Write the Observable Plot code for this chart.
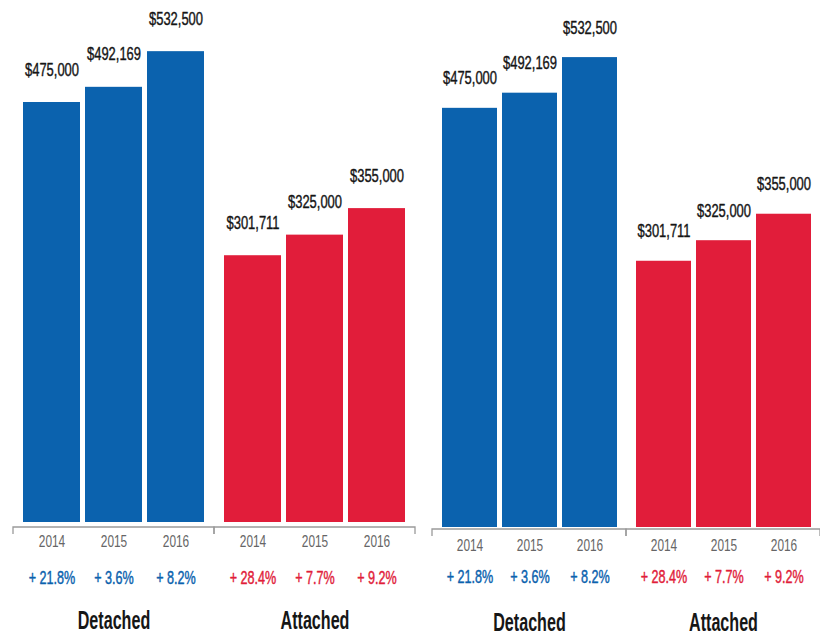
<!DOCTYPE html>
<html>
<head>
<meta charset="utf-8">
<script src="https://cdn.jsdelivr.net/npm/d3@7"></script>
<script src="https://cdn.jsdelivr.net/npm/@observablehq/plot@0.6"></script>
<style>
  html, body { margin: 0; padding: 0; background: #fff; }
  #wrap { display: flex; width: 820px; height: 640px; overflow: hidden; }
</style>
</head>
<body>
<div id="wrap"></div>
<script>
// ---- data ----
const years = ["2014", "2015", "2016"];
const types = ["Detached", "Attached"];
const detachedPrice = [475000, 492169, 532500];
const attachedPrice = [301711, 325000, 355000];
const detachedChange = [21.8, 3.6, 8.2];
const attachedChange = [28.4, 7.7, 9.2];
const typeColors = ["#0b62ae", "#e11d3a"];

const rows = [];
years.forEach((yr, i) => {
  rows.push({type: "Detached", year: yr, price: detachedPrice[i], change: detachedChange[i]});
  rows.push({type: "Attached", year: yr, price: attachedPrice[i], change: attachedChange[i]});
});

const FONT = "'Liberation Sans', Arial, sans-serif";
const money = d3.format(",");

function panel({width, marginLeft, marginRight, marginTop, marginBottom, off}) {
  const bracket = (index, scales, values, dim) => {
    const g = d3.create("svg:g");
    const y0 = scales.y(0) + off.line;
    const x1 = dim.marginLeft, x2 = dim.width - dim.marginRight;
    g.append("path")
      .attr("d", `M${x1},${y0 + 7}V${y0}H${x2}V${y0 + 7}`)
      .attr("fill", "none")
      .attr("stroke", "#9a9a9a")
      .attr("stroke-width", 1.3);
    return g.node();
  };
  const svg = Plot.plot({
    width, height: 640,
    marginLeft, marginRight, marginTop, marginBottom,
    style: {fontFamily: FONT, background: "#fff"},
    fx: {domain: types, padding: 0, axis: null},
    x: {domain: years, paddingInner: 0.085, paddingOuter: 0.14, axis: null},
    y: {domain: [0, 570000], axis: null},
    color: {domain: types, range: typeColors},
    marks: [
      Plot.barY(rows, {fx: "type", x: "year", y: "price", fill: "type"}),
      Plot.text(rows, {fx: "type", x: "year", y: "price", text: d => "$" + money(d.price),
        lineAnchor: "bottom", dy: off.value, fontSize: 18, fill: "#151515",
        stroke: "#151515", strokeWidth: 0.4}),
      Plot.text(rows, {fx: "type", x: "year", y: () => 0, text: "year",
        dy: off.year, fontSize: 16.5, fill: "#666"}),
      Plot.text(rows, {fx: "type", x: "year", y: () => 0, text: d => "+ " + d.change + "%",
        dy: off.pct, fontSize: 17.5, fill: "type", stroke: "type", strokeWidth: 0.45}),
      Plot.text(types, {fx: d => d, text: d => d, frameAnchor: "bottom",
        dy: off.label, fontSize: 26, fontWeight: "bold", fill: "#161616"}),
      bracket
    ]
  });
  // squeeze every text horizontally around its own anchor (condensed look)
  d3.select(svg).selectAll("text").each(function () {
    const holder = this.closest("[font-size]");
    const fs = holder ? +holder.getAttribute("font-size") : 10;
    const s = fs >= 24 ? 0.62 : 0.72;
    const t = d3.select(this);
    const x = +t.attr("x") || 0, y = +t.attr("y") || 0;
    const tr = t.attr("transform") || "";
    t.attr("x", null).attr("y", null)
     .attr("transform", `${tr} translate(${x},${y}) scale(${s},1)`);
  });
  return svg;
}

const wrap = document.getElementById("wrap");
wrap.append(panel({width: 420, marginLeft: 12, marginRight: 5, marginTop: 18, marginBottom: 118,
  off: {value: -27, line: 5, year: 24, pct: 61, label: 106}}));
wrap.append(panel({width: 400, marginLeft: 11, marginRight: 0, marginTop: 24, marginBottom: 113,
  off: {value: -24, line: 2, year: 23, pct: 55, label: 103}}));
</script>
</body>
</html>
